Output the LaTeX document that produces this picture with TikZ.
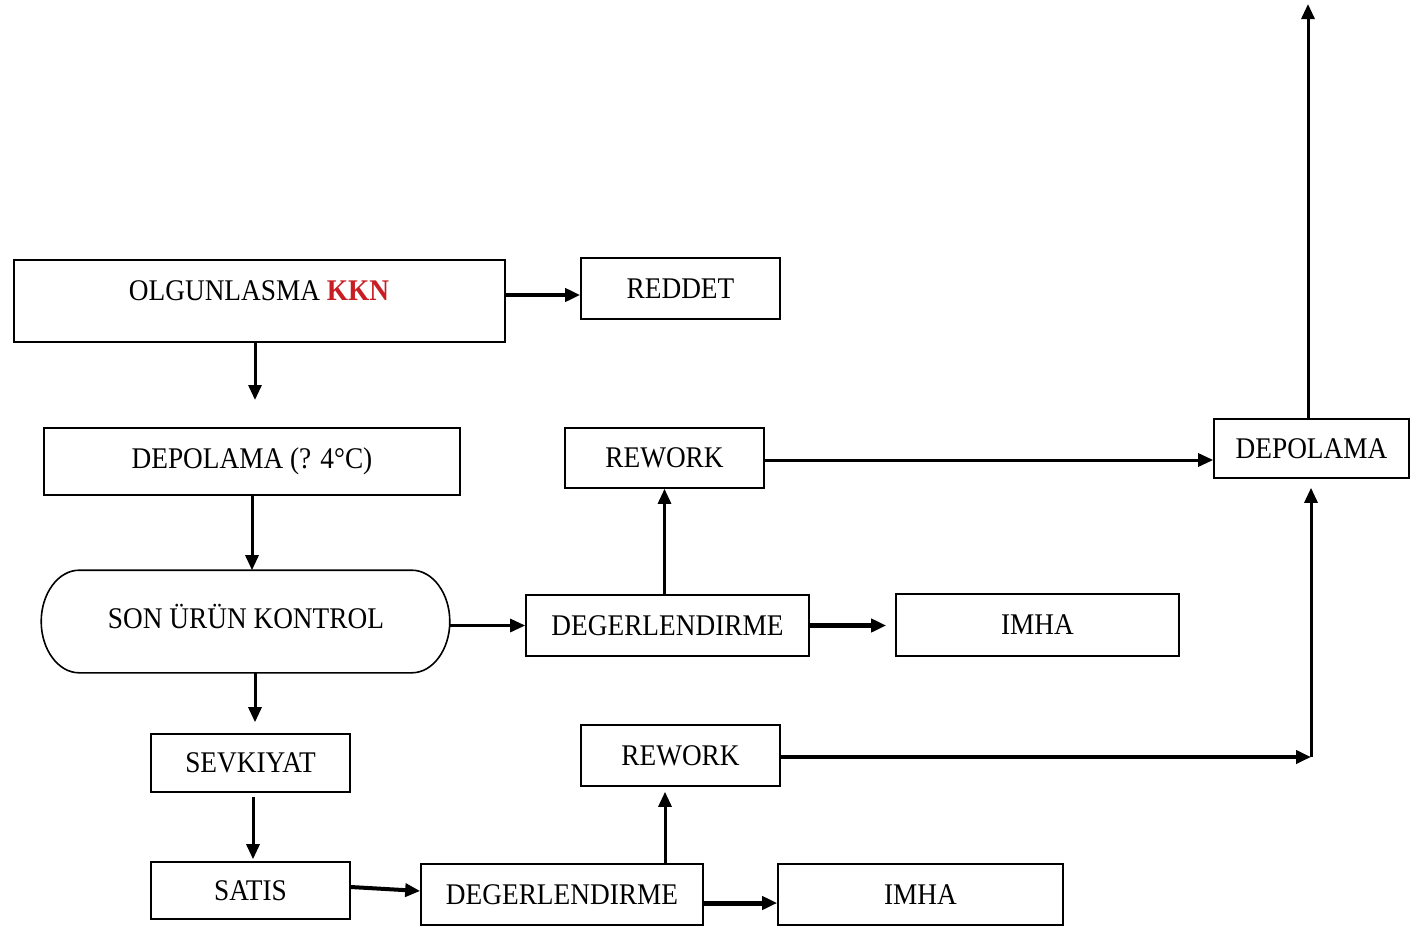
\documentclass[tikz,border=0pt]{standalone}
\usepackage{fontspec}
\setmainfont{Liberation Serif}[FakeStretch=0.91]
\usetikzlibrary{arrows.meta}
\definecolor{kknred}{RGB}{200,30,35}
\begin{document}
\begin{tikzpicture}[x=1pt,y=-1pt,
  box/.style={draw=black, line width=1.6pt, fill=white, inner sep=0pt,
    font=\fontsize{30}{36}\selectfont},
  outline/.style={draw=black, line width=1.6pt},
  label text/.style={inner sep=0pt, font=\fontsize{30}{36}\selectfont},
  flow/.style={draw=black, line width=3pt, -{Triangle[length=15pt,width=13pt]}},
  heavy/.style={flow, line width=4.5pt},
]
% page
\fill[white] (0,0) rectangle (1410,926);
\useasboundingbox (0,0) rectangle (1410,926);

% process boxes
\node[box, minimum width=491, minimum height=82] (olg) at (259.5,301) {};
\node[label text] (olgtxt) at (259,291) {OLGUNLASMA \textcolor{kknred}{\textbf{KKN}}};
\node[box, minimum width=199, minimum height=61] (reddet) at (680.5,288.5) {REDDET};
\node[box, minimum width=416, minimum height=67] (dep1) at (252,461.5) {DEPOLAMA (? 4°C)};
\node[box, draw=none, fill=none, minimum width=407, minimum height=101] (son) at (245.5,621.5) {};
% terminator outline with elliptical ends
\draw[outline] ([xshift=38pt]son.north west) -- ([xshift=-38pt]son.north east)
  .. controls ([xshift=-17pt]son.north east) and ([yshift=28pt]son.east) .. (son.east)
  .. controls ([yshift=-28pt]son.east) and ([xshift=-17pt]son.south east) .. ([xshift=-38pt]son.south east)
  -- ([xshift=38pt]son.south west)
  .. controls ([xshift=17pt]son.south west) and ([yshift=-28pt]son.west) .. (son.west)
  .. controls ([yshift=28pt]son.west) and ([xshift=17pt]son.north west) .. cycle;
\node[label text] (sontxt) at (246,616) {SON ÜRÜN KONTROL};
\node[box, minimum width=283, minimum height=61] (deg1) at (667.5,625.5) {DEGERLENDIRME};
\node[box, minimum width=283, minimum height=62] (imha1) at (1037.5,625) {IMHA};
\node[box, minimum width=199, minimum height=60] (rw1) at (664.5,458) {REWORK};
\node[box, minimum width=195, minimum height=59] (dep2) at (1311.5,448.5) {DEPOLAMA};
\node[box, minimum width=199, minimum height=61] (rw2) at (680.5,755.5) {REWORK};
\node[box, minimum width=199, minimum height=58] (sevk) at (250.5,763) {SEVKIYAT};
\node[box, minimum width=199, minimum height=57] (satis) at (250.5,890.5) {SATIS};
\node[box, minimum width=282, minimum height=61] (deg2) at (562,894.5) {DEGERLENDIRME};
\node[box, minimum width=285, minimum height=61] (imha2) at (920.5,894.5) {IMHA};

% free ends of connectors
\coordinate (olgend) at (255,400);
\coordinate (topend) at (1308,4);
\coordinate (corner) at (1311,757);

% connectors
\draw[heavy, line width=3.8pt] ([yshift=6pt]olg.east) -- ([yshift=6pt]olg.east -| reddet.west);
\draw[flow] ([xshift=-4.5pt]olg.south) -- (olgend);
\draw[flow] (dep1.south) -- (dep1.south |- son.north);
\draw[flow] (deg1.west -| son.east) -- (deg1.west);
\draw[heavy, shorten >=9pt] (deg1.east) -- (deg1.east -| imha1.west);
\draw[flow] (deg1.north -| rw1.south) -- (rw1.south);
\draw[flow] ([yshift=-2pt]rw1.east) -- ([yshift=-2pt]rw1.east -| dep2.west);
\draw[flow] (topend |- dep2.north) -- (topend);
\draw[flow, shorten >=11pt] ([xshift=4.5pt]sevk.north |- son.south) -- ([xshift=4.5pt]sevk.north);
\draw[flow, shorten <=4pt, shorten >=2pt] ([xshift=2.5pt]sevk.south) -- ([xshift=2.5pt]satis.north);
\draw[heavy, line width=4pt] ([yshift=3.5pt]satis.east) -- ([yshift=3.5pt]deg2.west);
\draw[heavy, line width=5pt] ([yshift=-8.5pt]deg2.east) -- ([yshift=-8.5pt]deg2.east -| imha2.west);
\draw[flow, shorten >=5pt] ([xshift=-15.5pt]rw2.south |- deg2.north) -- ([xshift=-15.5pt]rw2.south);
\draw[heavy] ([yshift=-1.5pt]rw2.east) -- (corner);
\draw[flow, shorten >=9pt] (corner) -- (corner |- dep2.south);
\end{tikzpicture}
\end{document}
